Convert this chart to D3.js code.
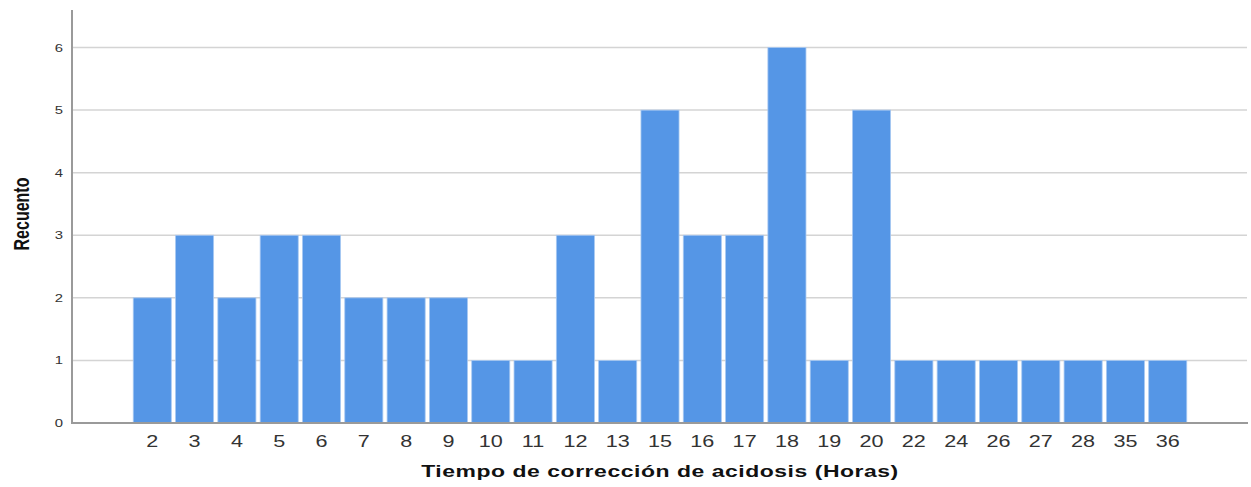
<!DOCTYPE html>
<html>
<head>
<meta charset="utf-8">
<script src="https://cdn.jsdelivr.net/npm/d3@7"></script>
<style>
  html, body { margin: 0; padding: 0; background: #fff; }
  svg { display: block; }
</style>
</head>
<body>
<div id="chart"></div>
<script>
// Data
const horas = ["2", "3", "4", "5", "6", "7", "8", "9", "10", "11", "12", "13", "15",
  "16", "17", "18", "19", "20", "22", "24", "26", "27", "28", "35", "36"];
const recuento = [2, 3, 2, 3, 3, 2, 2, 2, 1, 1, 3, 1, 5, 3, 3, 6, 1, 5, 1, 1, 1, 1, 1, 1, 1];
const yTicks = [0, 1, 2, 3, 4, 5, 6];

const width = 1251, height = 487;
const stretch = 1.35; // source picture is stretched horizontally

const svg = d3.select("#chart").append("svg")
  .attr("width", width)
  .attr("height", height);

const x = d3.scaleBand()
  .domain(horas)
  .range([129, 1191])
  .paddingInner(0.1)
  .paddingOuter(0.1);

const y = d3.scaleLinear()
  .domain([0, 6.6])
  .range([423, 10]);

// Gridlines
svg.append("g")
  .selectAll("line")
  .data(yTicks.filter(d => d > 0))
  .join("line")
  .attr("x1", 73).attr("x2", 1247)
  .attr("y1", d => y(d)).attr("y2", d => y(d))
  .attr("stroke", "#d4d4d4")
  .attr("stroke-width", 1.5);

// Bars
svg.append("g")
  .selectAll("rect")
  .data(horas.map((h, i) => ({ h, v: recuento[i] })))
  .join("rect")
  .attr("x", d => x(d.h))
  .attr("y", d => y(d.v))
  .attr("width", x.bandwidth())
  .attr("height", d => y(0) - y(d.v))
  .attr("fill", "#5596e6")
  .attr("stroke", "#a9c9f2")
  .attr("stroke-width", 0.8);

// Axis lines
svg.append("line")
  .attr("x1", 72).attr("x2", 72)
  .attr("y1", 10).attr("y2", 424)
  .attr("stroke", "#9a9a9a").attr("stroke-width", 2);
svg.append("line")
  .attr("x1", 71).attr("x2", 1248)
  .attr("y1", 423).attr("y2", 423)
  .attr("stroke", "#9a9a9a").attr("stroke-width", 2);

// Y tick labels
svg.append("g")
  .selectAll("text")
  .data(yTicks)
  .join("text")
  .attr("transform", d => `translate(63, ${y(d) + 4}) scale(${stretch},1)`)
  .attr("text-anchor", "end")
  .style("font-family", "'Liberation Sans', Arial, sans-serif")
  .style("font-size", "11px")
  .attr("fill", "#333")
  .text(d => d);

// X tick labels
svg.append("g")
  .selectAll("text")
  .data(horas)
  .join("text")
  .attr("transform", d => `translate(${x(d) + x.bandwidth() / 2}, 447) scale(${stretch},1)`)
  .attr("text-anchor", "middle")
  .style("font-family", "'Liberation Sans', Arial, sans-serif")
  .style("font-size", "16px")
  .attr("fill", "#333")
  .text(d => d);

// Axis titles
svg.append("text")
  .attr("transform", `translate(660, 477) scale(${stretch},1)`)
  .attr("text-anchor", "middle")
  .style("font-family", "'Liberation Sans', Arial, sans-serif")
  .style("font-size", "17px")
  .style("letter-spacing", "0.4px")
  .style("font-weight", "bold")
  .attr("fill", "#111")
  .text("Tiempo de corrección de acidosis (Horas)");

svg.append("text")
  .attr("transform", `translate(29, 214) scale(${stretch},1) rotate(-90)`)
  .attr("text-anchor", "middle")
  .style("font-family", "'Liberation Sans', Arial, sans-serif")
  .style("font-size", "16px")
  .style("font-weight", "bold")
  .attr("fill", "#111")
  .text("Recuento");
</script>
</body>
</html>
